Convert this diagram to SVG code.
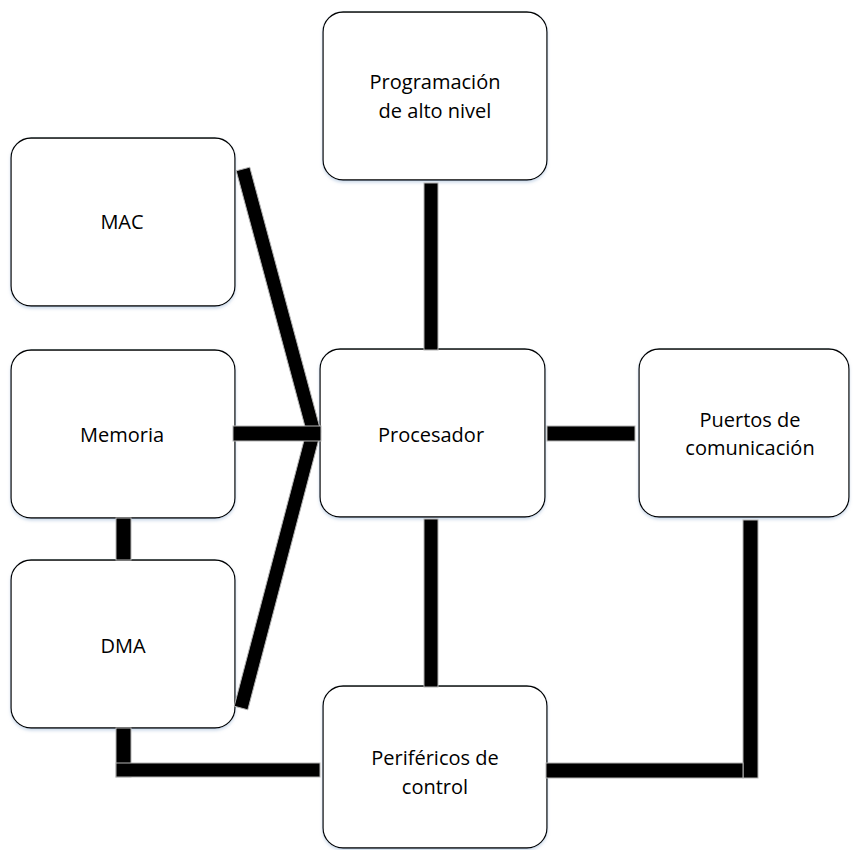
<svg xmlns="http://www.w3.org/2000/svg" width="853" height="850" viewBox="0 0 853 850">
<defs>
<filter id="sh" x="-10%" y="-10%" width="120%" height="120%">
<feDropShadow dx="0" dy="2" stdDeviation="1.5" flood-color="#9fb7d6" flood-opacity="0.5"/>
</filter>
</defs>
<style>
.box{fill:#fff;stroke:#000;stroke-width:1.3;filter:url(#sh)}
.lbl{font-family:"Open Sans","Liberation Sans",sans-serif;font-size:20px;fill:#000;text-anchor:middle}
.bar{fill:#000;stroke:#b4b4b4;stroke-width:1}
</style>
<rect width="853" height="850" fill="#fff"/>
<g id="prog">
<rect class="box" x="323" y="12" width="224" height="168" rx="20"/>
<text class="lbl" x="435" y="89">Programación</text>
<text class="lbl" x="435" y="118">de alto nivel</text>
</g>
<g id="mac">
<rect class="box" x="11" y="138" width="224" height="168" rx="20"/>
<text class="lbl" x="122" y="229">MAC</text>
</g>
<g id="memoria">
<rect class="box" x="11" y="350" width="224" height="168" rx="20"/>
<text class="lbl" x="122" y="442">Memoria</text>
</g>
<g id="dma">
<rect class="box" x="11" y="560" width="224" height="168" rx="20"/>
<text class="lbl" x="123" y="653">DMA</text>
</g>
<g id="procesador">
<rect class="box" x="320" y="349" width="225" height="168" rx="20"/>
<text class="lbl" x="431" y="442">Procesador</text>
</g>
<g id="puertos">
<rect class="box" x="639" y="349" width="210" height="168" rx="20"/>
<text class="lbl" x="750" y="427">Puertos de</text>
<text class="lbl" x="750" y="455">comunicación</text>
</g>
<g id="perifericos">
<rect class="box" x="323" y="686" width="224" height="162" rx="20"/>
<text class="lbl" x="435" y="765">Periféricos de</text>
<text class="lbl" x="435" y="794">control</text>
</g>
<g id="connectors">
<polygon class="bar" points="236.2,170.8 249.8,167.2 320.8,431.2 307.2,434.8"/>
<polygon class="bar" points="234.2,706.2 247.8,709.8 320.8,431.8 307.2,428.2"/>
<rect class="bar" x="233" y="426" width="88" height="15"/>
<rect class="bar" x="424" y="183" width="14" height="167"/>
<rect class="bar" x="547" y="426" width="88" height="15"/>
<rect class="bar" x="424" y="519" width="14" height="168"/>
<rect class="bar" x="116" y="518" width="15" height="42"/>
<rect class="bar" x="116" y="728" width="15" height="49"/>
<rect class="bar" x="116" y="763" width="204" height="14"/>
<rect class="bar" x="743" y="520" width="15" height="258"/>
<rect class="bar" x="546" y="763" width="197" height="15"/>
</g>
</svg>
